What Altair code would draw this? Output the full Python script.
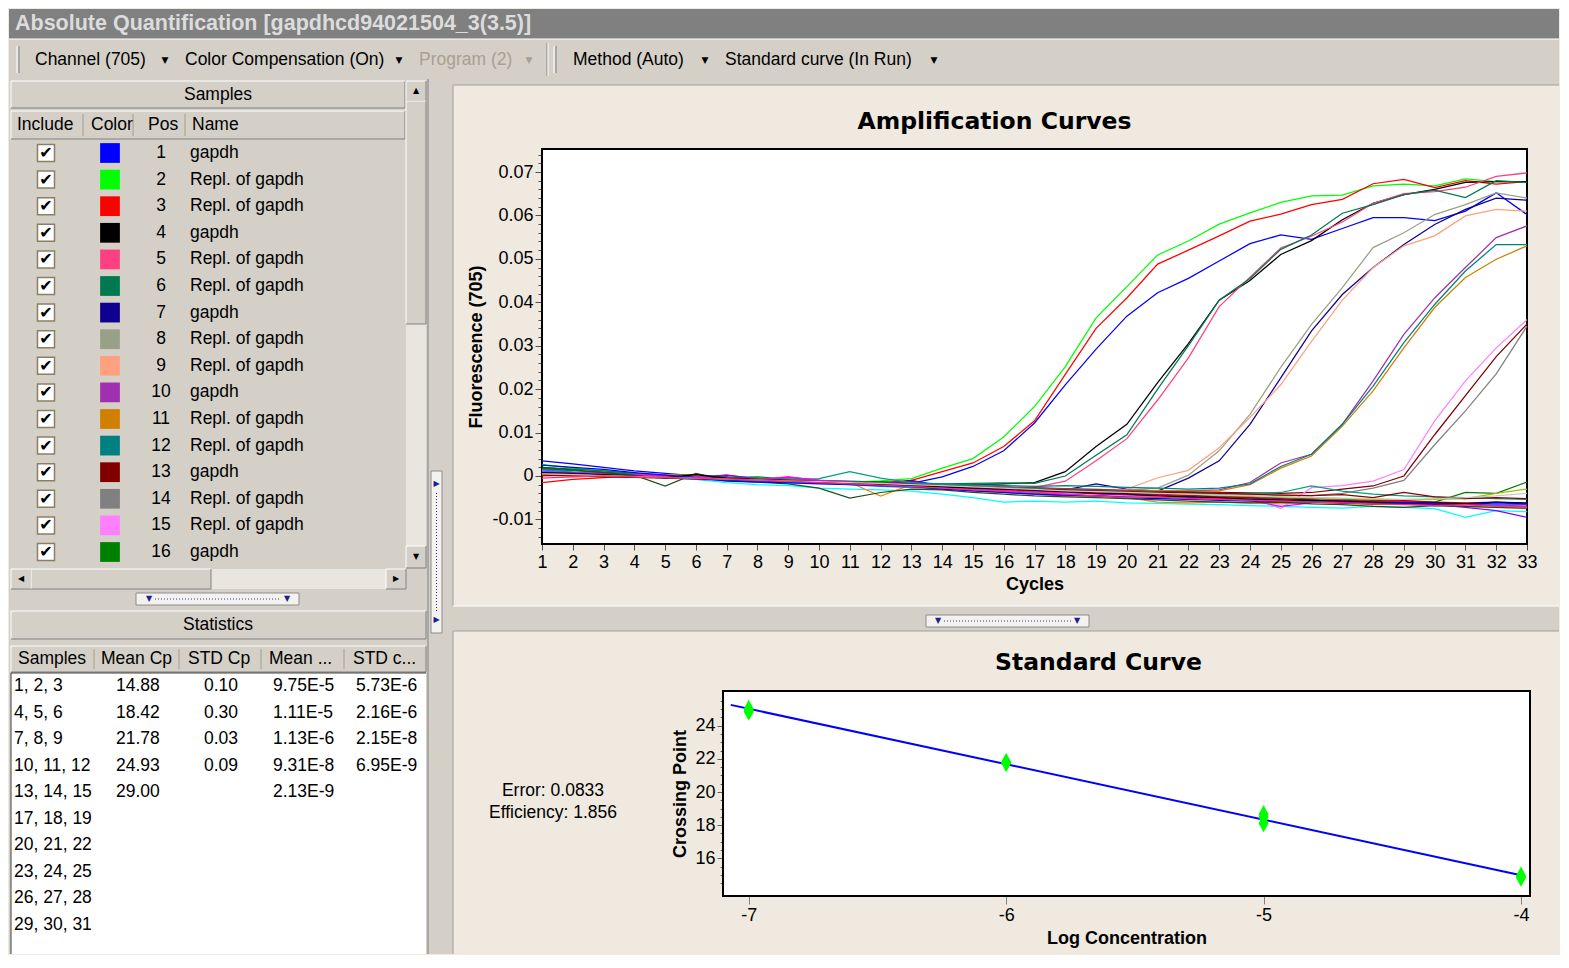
import altair as alt
import pandas as pd

# ---------------------------------------------------------------- data
cycles = list(range(1, 34))

s01 = [0.0035, 0.0028, 0.0020, 0.0012, 0.0006, 0.0000, -0.0006, -0.0010, -0.0012, -0.0014, -0.0016, -0.0018, -0.0017, -0.0002, 0.0022, 0.0058, 0.0122, 0.0210, 0.0292, 0.0368, 0.0422, 0.0455, 0.0495, 0.0535, 0.0555, 0.0545, 0.0570, 0.0595, 0.0595, 0.0588, 0.0610, 0.0652, 0.0602]
s02 = [0.0027, 0.0018, 0.0012, 0.0006, 0.0002, 0.0000, -0.0006, -0.0005, -0.0009, -0.0012, -0.0014, -0.0011, -0.0006, 0.0018, 0.0040, 0.0090, 0.0160, 0.0252, 0.0364, 0.0436, 0.0509, 0.0541, 0.0580, 0.0606, 0.0630, 0.0645, 0.0647, 0.0668, 0.0672, 0.0668, 0.0684, 0.0678, 0.0678]
s03 = [-0.0015, -0.0008, -0.0004, 0.0000, -0.0002, -0.0003, -0.0008, -0.0010, -0.0011, -0.0013, -0.0013, -0.0015, -0.0010, 0.0010, 0.0030, 0.0068, 0.0127, 0.0234, 0.0340, 0.0410, 0.0488, 0.0520, 0.0553, 0.0587, 0.0603, 0.0625, 0.0637, 0.0673, 0.0683, 0.0664, 0.0680, 0.0672, 0.0678]
s04 = [0.0015, 0.0012, 0.0008, 0.0004, 0.0000, -0.0003, -0.0008, -0.0010, -0.0012, -0.0015, -0.0016, -0.0018, -0.0020, -0.0022, -0.0020, -0.0018, -0.0015, 0.0010, 0.0068, 0.0119, 0.0215, 0.0305, 0.0405, 0.0450, 0.0510, 0.0542, 0.0590, 0.0628, 0.0648, 0.0660, 0.0676, 0.0678, 0.0678]
s05 = [0.0005, 0.0008, 0.0004, 0.0002, -0.0002, -0.0004, -0.0006, -0.0008, -0.0004, -0.0012, -0.0015, -0.0018, -0.0020, -0.0024, -0.0026, -0.0027, -0.0027, -0.0012, 0.0035, 0.0086, 0.0175, 0.0272, 0.0390, 0.0458, 0.0525, 0.0552, 0.0585, 0.0628, 0.0650, 0.0655, 0.0665, 0.0690, 0.0698]
s06 = [0.0020, 0.0016, 0.0012, 0.0006, 0.0002, 0.0000, -0.0005, -0.0007, -0.0010, -0.0011, -0.0013, -0.0014, -0.0016, -0.0018, -0.0017, -0.0016, -0.0017, 0.0000, 0.0048, 0.0095, 0.0200, 0.0300, 0.0405, 0.0455, 0.0522, 0.0555, 0.0605, 0.0625, 0.0648, 0.0658, 0.0641, 0.0680, 0.0676]
s07 = [0.0010, 0.0008, 0.0005, 0.0003, 0.0000, -0.0004, -0.0002, -0.0010, -0.0013, -0.0016, -0.0018, -0.0021, -0.0010, -0.0024, -0.0027, -0.0030, -0.0030, -0.0032, -0.0018, -0.0030, -0.0035, -0.0005, 0.0035, 0.0119, 0.0226, 0.0334, 0.0418, 0.0480, 0.0533, 0.0579, 0.0614, 0.0640, 0.0635]
s08 = [0.0012, 0.0009, 0.0006, 0.0004, 0.0001, -0.0002, -0.0005, -0.0008, -0.0010, -0.0012, -0.0015, -0.0017, -0.0019, -0.0021, -0.0024, -0.0026, -0.0028, -0.0030, -0.0031, -0.0032, -0.0028, 0.0002, 0.0058, 0.0142, 0.0250, 0.0349, 0.0434, 0.0526, 0.0560, 0.0602, 0.0625, 0.0652, 0.0640]
s09 = [0.0008, 0.0006, 0.0003, 0.0001, -0.0001, -0.0003, -0.0006, -0.0009, -0.0002, -0.0010, -0.0013, -0.0016, -0.0018, -0.0020, -0.0022, -0.0025, -0.0027, -0.0030, -0.0032, -0.0030, -0.0004, 0.0013, 0.0065, 0.0135, 0.0210, 0.0310, 0.0405, 0.0480, 0.0530, 0.0553, 0.0599, 0.0614, 0.0610]
s10 = [0.0006, 0.0004, 0.0002, 0.0000, -0.0002, -0.0004, 0.0002, -0.0008, -0.0010, -0.0012, -0.0014, -0.0016, -0.0018, -0.0020, -0.0022, -0.0025, -0.0027, -0.0029, -0.0031, -0.0033, -0.0035, -0.0034, -0.0032, -0.0015, 0.0030, 0.0050, 0.0119, 0.0219, 0.0326, 0.0410, 0.0480, 0.0549, 0.0576]
s11 = [0.0004, 0.0003, 0.0002, 0.0004, 0.0003, 0.0001, -0.0006, -0.0010, -0.0009, -0.0013, -0.0015, -0.0022, -0.0020, -0.0022, -0.0024, -0.0026, -0.0028, -0.0030, -0.0032, -0.0034, -0.0033, -0.0035, -0.0034, -0.0020, 0.0018, 0.0046, 0.0115, 0.0196, 0.0295, 0.0388, 0.0457, 0.0499, 0.0530]
s12 = [0.0016, 0.0012, 0.0008, 0.0004, 0.0001, -0.0002, -0.0004, -0.0006, -0.0008, -0.0010, -0.0012, -0.0014, -0.0016, -0.0018, -0.0020, -0.0022, -0.0024, -0.0022, -0.0024, -0.0026, -0.0028, -0.0030, -0.0028, -0.0018, 0.0022, 0.0050, 0.0119, 0.0207, 0.0307, 0.0395, 0.0472, 0.0533, 0.0533]
s13 = [0.0003, 0.0001, 0.0000, -0.0002, -0.0004, -0.0006, -0.0008, -0.0010, -0.0012, -0.0014, -0.0016, -0.0018, -0.0020, -0.0022, -0.0024, -0.0026, -0.0028, -0.0030, -0.0032, -0.0034, -0.0036, -0.0037, -0.0038, -0.0039, -0.0040, -0.0038, -0.0030, -0.0023, 0.0000, 0.0095, 0.0185, 0.0275, 0.0350]
s14 = [0.0010, 0.0007, 0.0004, 0.0002, -0.0001, -0.0003, -0.0006, -0.0008, -0.0010, -0.0013, -0.0015, -0.0017, -0.0019, -0.0022, -0.0024, -0.0026, -0.0029, -0.0031, -0.0033, -0.0035, -0.0037, -0.0039, -0.0040, -0.0042, -0.0044, -0.0045, -0.0040, -0.0028, -0.0010, 0.0072, 0.0150, 0.0235, 0.0345]
s15 = [0.0002, 0.0000, -0.0001, -0.0002, -0.0004, -0.0006, -0.0008, -0.0010, -0.0012, -0.0014, -0.0016, -0.0018, -0.0021, -0.0024, -0.0027, -0.0030, -0.0033, -0.0036, -0.0038, -0.0040, -0.0042, -0.0044, -0.0046, -0.0048, -0.0075, -0.0027, -0.0022, -0.0012, 0.0015, 0.0127, 0.0219, 0.0295, 0.0360]
s16 = [0.0018, 0.0012, 0.0009, 0.0003, 0.0000, 0.0004, -0.0004, -0.0002, -0.0008, -0.0012, -0.0014, -0.0013, -0.0020, -0.0024, -0.0028, -0.0031, -0.0033, -0.0035, -0.0037, -0.0040, -0.0042, -0.0044, -0.0046, -0.0047, -0.0050, -0.0052, -0.0053, -0.0056, -0.0058, -0.0060, -0.0038, -0.0040, -0.0014]
s17 = [0.0012, 0.0010, 0.0005, 0.0000, -0.0005, -0.0008, -0.0015, -0.0020, -0.0022, -0.0028, -0.0030, -0.0032, -0.0035, -0.0042, -0.0050, -0.0060, -0.0058, -0.0060, -0.0058, -0.0062, -0.0063, -0.0065, -0.0066, -0.0068, -0.0070, -0.0072, -0.0074, -0.0070, -0.0072, -0.0075, -0.0095, -0.0080, -0.0082]
s18 = [0.0005, 0.0003, 0.0002, 0.0003, 0.0002, 0.0001, -0.0005, -0.0008, -0.0006, -0.0012, -0.0015, -0.0046, -0.0020, -0.0024, -0.0028, -0.0032, -0.0036, -0.0044, -0.0046, -0.0050, -0.0060, -0.0062, -0.0060, -0.0062, -0.0064, -0.0060, -0.0063, -0.0066, -0.0065, -0.0068, -0.0070, -0.0072, -0.0074]
s19 = [0.0000, 0.0002, 0.0001, -0.0003, -0.0002, -0.0004, -0.0006, -0.0010, -0.0003, -0.0010, -0.0018, -0.0020, -0.0026, -0.0028, -0.0034, -0.0038, -0.0042, -0.0046, -0.0045, -0.0048, -0.0050, -0.0047, -0.0052, -0.0055, -0.0058, -0.0054, -0.0063, -0.0060, -0.0058, -0.0062, -0.0064, -0.0066, -0.0070]
s20 = [0.0006, 0.0004, 0.0002, 0.0000, -0.0002, -0.0003, 0.0002, -0.0006, -0.0008, -0.0012, -0.0016, -0.0018, -0.0012, -0.0022, -0.0026, -0.0030, -0.0034, -0.0038, -0.0040, -0.0038, -0.0044, -0.0048, -0.0054, -0.0050, -0.0056, -0.0058, -0.0060, -0.0062, -0.0064, -0.0066, -0.0072, -0.0080, -0.0095]
s21 = [0.0014, 0.0009, 0.0006, 0.0002, -0.0004, -0.0008, -0.0010, -0.0012, -0.0014, -0.0016, -0.0020, -0.0024, -0.0026, -0.0029, -0.0032, -0.0036, -0.0040, -0.0042, -0.0046, -0.0048, -0.0050, -0.0052, -0.0052, -0.0055, -0.0056, -0.0058, -0.0060, -0.0061, -0.0062, -0.0063, -0.0064, -0.0066, -0.0066]
s22 = [0.0008, 0.0006, 0.0004, 0.0001, -0.0002, -0.0005, -0.0006, -0.0009, -0.0012, -0.0014, -0.0015, -0.0018, -0.0020, -0.0024, -0.0027, -0.0030, -0.0032, -0.0034, -0.0036, -0.0038, -0.0040, -0.0042, -0.0045, -0.0046, -0.0048, -0.0050, -0.0052, -0.0054, -0.0055, -0.0054, -0.0052, -0.0040, -0.0030]
s23 = [0.0010, 0.0006, 0.0003, 0.0000, -0.0002, -0.0004, -0.0006, -0.0005, -0.0008, -0.0006, 0.0010, -0.0005, -0.0015, -0.0020, -0.0024, -0.0028, -0.0030, -0.0032, -0.0034, -0.0036, -0.0038, -0.0040, -0.0042, -0.0040, -0.0038, -0.0023, -0.0035, -0.0042, -0.0046, -0.0048, -0.0050, -0.0052, -0.0054]
s24 = [0.0004, 0.0002, 0.0000, -0.0002, -0.0003, -0.0006, -0.0008, -0.0010, -0.0012, -0.0014, -0.0016, -0.0018, -0.0022, -0.0025, -0.0028, -0.0032, -0.0035, -0.0036, -0.0038, -0.0040, -0.0042, -0.0045, -0.0048, -0.0050, -0.0052, -0.0055, -0.0056, -0.0058, -0.0057, -0.0060, -0.0062, -0.0060, -0.0064]
s25 = [0.0010, 0.0008, 0.0006, 0.0003, 0.0000, -0.0002, -0.0005, -0.0008, -0.0002, -0.0010, -0.0014, -0.0018, -0.0022, -0.0026, -0.0030, -0.0033, -0.0036, -0.0038, -0.0042, -0.0044, -0.0046, -0.0050, -0.0052, -0.0056, -0.0070, -0.0062, -0.0058, -0.0060, -0.0062, -0.0064, -0.0066, -0.0068, -0.0070]
s26 = [0.0020, 0.0014, 0.0008, 0.0002, -0.0023, 0.0006, -0.0010, -0.0014, -0.0018, -0.0028, -0.0051, -0.0038, -0.0030, -0.0032, -0.0038, -0.0042, -0.0046, -0.0048, -0.0050, -0.0052, -0.0055, -0.0058, -0.0060, -0.0062, -0.0060, -0.0064, -0.0066, -0.0070, -0.0072, -0.0068, -0.0070, -0.0072, -0.0074]
s27 = [0.0002, 0.0000, -0.0002, -0.0003, -0.0005, -0.0006, -0.0008, -0.0009, -0.0011, -0.0013, -0.0015, -0.0017, -0.0019, -0.0022, -0.0025, -0.0028, -0.0030, -0.0032, -0.0034, -0.0036, -0.0038, -0.0038, -0.0040, -0.0042, -0.0044, -0.0045, -0.0043, -0.0050, -0.0038, -0.0048, -0.0052, -0.0050, -0.0052]
s28 = [0.0008, 0.0006, 0.0003, 0.0000, -0.0004, 0.0003, -0.0005, -0.0008, -0.0010, -0.0014, -0.0018, -0.0020, -0.0022, -0.0025, -0.0028, -0.0030, -0.0033, -0.0036, -0.0040, -0.0042, -0.0046, -0.0048, -0.0050, -0.0053, -0.0055, -0.0056, -0.0058, -0.0060, -0.0062, -0.0062, -0.0064, -0.0060, -0.0062]
s29 = [0.0025, 0.0020, 0.0015, 0.0008, 0.0002, -0.0004, -0.0012, -0.0014, -0.0016, -0.0018, -0.0020, -0.0022, -0.0024, -0.0030, -0.0034, -0.0038, -0.0042, -0.0044, -0.0046, -0.0050, -0.0052, -0.0054, -0.0056, -0.0058, -0.0059, -0.0060, -0.0062, -0.0064, -0.0062, -0.0065, -0.0066, -0.0062, -0.0064]
s30 = [0.0005, 0.0003, 0.0001, -0.0001, -0.0003, -0.0005, -0.0007, -0.0009, -0.0011, -0.0013, -0.0015, -0.0017, -0.0020, -0.0022, -0.0025, -0.0028, -0.0031, -0.0034, -0.0036, -0.0038, -0.0040, -0.0042, -0.0044, -0.0046, -0.0048, -0.0050, -0.0051, -0.0052, -0.0054, -0.0052, -0.0050, -0.0046, -0.0040]
s31 = [-0.0005, -0.0002, 0.0000, -0.0002, -0.0003, -0.0005, -0.0007, -0.0009, -0.0012, -0.0015, -0.0018, -0.0021, -0.0024, -0.0028, -0.0032, -0.0035, -0.0038, -0.0042, -0.0046, -0.0050, -0.0048, -0.0052, -0.0054, -0.0056, -0.0058, -0.0060, -0.0062, -0.0064, -0.0066, -0.0068, -0.0066, -0.0070, -0.0072]

curve_samples = list(range(1, 32))
curve_colors = ['#0000ff', '#00ff00', '#ff0000', '#000000', '#ff4080', '#007850', '#100090',
                '#98a088', '#ffa080', '#a030b0', '#d08000', '#008080', '#800000', '#808080',
                '#ff80ff', '#008000', '#00ffff', '#ff8000', '#ff0080', '#8000ff', '#0080ff',
                '#a0c000', '#00a080', '#c00000', '#ff00ff', '#205020', '#900000', '#000000',
                '#0000ff', '#c8c8c8', '#ff3060']

sample_pos = list(range(1, 17))
sample_names = ['gapdh', 'Repl. of gapdh', 'Repl. of gapdh', 'gapdh', 'Repl. of gapdh',
                'Repl. of gapdh', 'gapdh', 'Repl. of gapdh', 'Repl. of gapdh', 'gapdh',
                'Repl. of gapdh', 'Repl. of gapdh', 'gapdh', 'Repl. of gapdh', 'Repl. of gapdh',
                'gapdh']

stat_samples = ['1, 2, 3', '4, 5, 6', '7, 8, 9', '10, 11, 12', '13, 14, 15',
                '17, 18, 19', '20, 21, 22', '23, 24, 25', '26, 27, 28', '29, 30, 31']
stat_mean_cp = ['14.88', '18.42', '21.78', '24.93', '29.00', '', '', '', '', '']
stat_std_cp = ['0.10', '0.30', '0.03', '0.09', '', '', '', '', '', '']
stat_mean_conc = ['9.75E-5', '1.11E-5', '1.13E-6', '9.31E-8', '2.13E-9', '', '', '', '', '']
stat_std_conc = ['5.73E-6', '2.16E-6', '2.15E-8', '6.95E-9', '', '', '', '', '', '']

std_logc = [-7, -7, -7, -6, -6, -6, -5, -5, -5, -4, -4, -4]
std_cp = [25.02, 24.92, 24.85, 21.80, 21.76, 21.78, 18.66, 18.12, 18.48, 14.95, 14.82, 14.88]
fit_extent = [-7.07, -4.0]
error_text = 'Error: 0.0833'
efficiency_text = 'Efficiency: 1.856'

window_title = 'Absolute Quantification [gapdhcd94021504_3(3.5)]'

# ---------------------------------------------------------------- tables
series = [s01, s02, s03, s04, s05, s06, s07, s08, s09, s10, s11, s12, s13, s14, s15, s16,
          s17, s18, s19, s20, s21, s22, s23, s24, s25, s26, s27, s28, s29, s30, s31]
rows = []
for sid, vals in zip(curve_samples, series):
    assert len(vals) == len(cycles), sid
    for c, v in zip(cycles, vals):
        rows.append({'sample': sid, 'cycle': c, 'fluor': v})
amp_df = pd.DataFrame(rows)
samples_df = pd.DataFrame({'pos': sample_pos, 'name': sample_names})
stats_df = pd.DataFrame({'samples': stat_samples, 'mean_cp': stat_mean_cp, 'std_cp': stat_std_cp,
                         'mean_conc': stat_mean_conc, 'std_conc': stat_std_conc})
std_df = pd.DataFrame({'logc': std_logc, 'cp': std_cp})

# ---------------------------------------------------------------- style helpers
FONT = 'Liberation Sans, Arial, Helvetica, sans-serif'
HEAD = 'DejaVu Sans, Verdana, sans-serif'
BEIGE = '#d4d0c8'
PANEL = '#efe9df'
TRACK = '#e9e6df'
W, H = 1550, 945
ONE = pd.DataFrame({'k': [0]})
color_scale = alt.Scale(domain=curve_samples, range=curve_colors)
UI = 17.5


def txt(s, x, y, size=UI, color='#000000', align='left', weight='normal', font=FONT):
    return alt.Chart(ONE).mark_text(text=s, align=align, baseline='middle', fontSize=size,
                                    font=font, fontWeight=weight, color=color).encode(
        x=alt.value(x), y=alt.value(y))


def box(x1, x2, y1, y2, fill, stroke='transparent', sw=1):
    return alt.Chart(ONE).mark_rect(fill=fill, stroke=stroke, strokeWidth=sw).encode(
        x=alt.value(x1), x2=alt.value(x2), y=alt.value(y1), y2=alt.value(y2))


def rule(x1, x2, y1, y2, color, sw=1, dash=None):
    kw = dict(color=color, strokeWidth=sw)
    if dash:
        kw['strokeDash'] = dash
    return alt.Chart(ONE).mark_rule(**kw).encode(
        x=alt.value(x1), x2=alt.value(x2), y=alt.value(y1), y2=alt.value(y2))


def raised(x1, x2, y1, y2, fill=BEIGE):
    return [box(x1, x2, y1, y2, fill),
            rule(x1, x2, y1, y1, '#ffffff'), rule(x1, x1, y1, y2, '#ffffff'),
            rule(x1, x2, y2, y2, '#808080'), rule(x2, x2, y1, y2, '#808080')]


tri = dict(size=9, align='center', font=HEAD)
small_tri = dict(size=8, align='center', font=HEAD)
blue_tri = dict(size=8, color='#202090', align='center', font=HEAD)
layers = []

# ---------------------------------------------------------------- title bar & toolbar
layers += [
    box(0, W, 0, 30, '#808080'),
    txt(window_title, 6, 15, size=21.5, color='#dcdcdc', weight='bold'),
    box(0, W, 30, 70, BEIGE),
    rule(0, W, 30, 30, '#ffffff'),
    rule(8, 8, 37, 64, '#ffffff'), rule(10, 10, 37, 64, '#808080'),
    txt('Channel (705)', 26, 51), txt('▼', 156, 51, **tri),
    txt('Color Compensation (On)', 176, 51), txt('▼', 390, 51, **tri),
    txt('Program (2)', 410, 51, color='#a8a090'),
    txt('▼', 520, 51, size=9, color='#a8a090', align='center', font=HEAD),
    rule(538, 538, 34, 67, '#808080'), rule(539, 539, 34, 67, '#ffffff'),
    rule(545, 545, 37, 64, '#ffffff'), rule(547, 547, 37, 64, '#808080'),
    txt('Method (Auto)', 564, 51), txt('▼', 696, 51, **tri),
    txt('Standard curve (In Run)', 716, 51), txt('▼', 925, 51, **tri),
]

# ---------------------------------------------------------------- samples panel (x 0-420, y 70-597)
ypos = alt.Y('pos:Q', scale=alt.Scale(domain=[1, 16], range=[144, 543]), axis=None)
layers += [
    box(0, 420, 70, 597, BEIGE),
    *raised(2, 396, 72, 99), txt('Samples', 209, 86, align='center'),
    *raised(2, 396, 102, 130),
    rule(74, 74, 105, 127, '#a89c84'), rule(124, 124, 105, 127, '#a89c84'), rule(176, 176, 105, 127, '#a89c84'),
    txt('Include', 8, 116), txt('Color', 82, 116), txt('Pos', 139, 116), txt('Name', 183, 116),
    alt.Chart(samples_df).mark_square(size=289, fill='white', stroke='#8a7f66', strokeWidth=1.5,
                                      opacity=1).encode(x=alt.value(37), y=ypos),
    alt.Chart(samples_df).mark_text(text='✔', fontSize=16, fontWeight='bold', font=HEAD, color='black',
                                    align='center', baseline='middle').encode(x=alt.value(37), y=ypos),
    alt.Chart(samples_df).mark_square(size=390, opacity=1).encode(
        x=alt.value(101), y=ypos, color=alt.Color('pos:N', scale=color_scale, legend=None)),
    alt.Chart(samples_df).mark_text(align='center', baseline='middle', fontSize=UI, font=FONT,
                                    color='black').encode(x=alt.value(152), y=ypos, text='pos:Q'),
    alt.Chart(samples_df).mark_text(align='left', baseline='middle', fontSize=UI, font=FONT,
                                    color='black').encode(x=alt.value(181), y=ypos, text='name:N'),
    box(397, 417, 72, 559, TRACK),
    *raised(397, 417, 72, 92), txt('▲', 407, 82, **small_tri),
    *raised(397, 417, 92, 315),
    *raised(397, 417, 537, 559), txt('▼', 407, 548, **small_tri),
    box(2, 397, 560, 580, TRACK),
    *raised(2, 22, 560, 580), txt('◀', 12, 570, **small_tri),
    *raised(22, 202, 560, 580),
    *raised(377, 397, 560, 580), txt('▶', 387, 570, **small_tri),
    box(127, 290, 584, 596, '#f4f2ee', stroke='#8c8c8c'),
    rule(146, 272, 590, 590, '#3030a0', dash=[1, 2]),
    txt('▼', 140, 590, **blue_tri), txt('▼', 278, 590, **blue_tri),
]

# ---------------------------------------------------------------- statistics panel (y 597-945)
yrow = alt.Y('samples:N', sort=None, scale=alt.Scale(type='point', range=[677, 916], padding=0), axis=None)


def stat_col(field, x):
    return alt.Chart(stats_df).mark_text(align='left', baseline='middle', fontSize=UI, font=FONT,
                                         color='black').encode(x=alt.value(x), y=yrow, text=f'{field}:N')


layers += [
    box(0, 420, 597, H, BEIGE),
    *raised(2, 417, 602, 630), txt('Statistics', 209, 616, align='center'),
    *raised(2, 417, 637, 663),
    rule(85, 85, 640, 660, '#a89c84'), rule(170, 170, 640, 660, '#a89c84'),
    rule(252, 252, 640, 660, '#a89c84'), rule(335, 335, 640, 660, '#a89c84'),
    txt('Samples', 9, 650), txt('Mean Cp', 92, 650), txt('STD Cp', 179, 650),
    txt('Mean ...', 260, 650), txt('STD c...', 344, 650),
    box(2, 417, 664, H, '#ffffff'), rule(2, 2, 664, H, '#404040'), rule(2, 417, 664, 664, '#404040'),
    stat_col('samples', 5), stat_col('mean_cp', 107), stat_col('std_cp', 195),
    stat_col('mean_conc', 264), stat_col('std_conc', 347),
]

# ---------------------------------------------------------------- splitters and frames
layers += [
    box(420, 438, 70, H, BEIGE),
    rule(419, 419, 70, H, '#808080'),
    box(422, 433, 462, 624, '#f4f2ee', stroke='#8c8c8c'),
    rule(427.5, 427.5, 484, 602, '#3030a0', dash=[1, 2]),
    txt('▶', 427.5, 475, **blue_tri), txt('▶', 427.5, 611, **blue_tri),
    box(438, 444, 70, H, BEIGE), box(438, W, 70, 76, BEIGE),
    rule(444, 444, 76, 597, '#a0a0a0'), rule(444, W, 76, 76, '#a0a0a0'),
    box(438, W, 597, 622, BEIGE),
    rule(444, W, 597, 597, '#ffffff'), rule(444, W, 622, 622, '#a0a0a0'),
    box(917, 1080, 606, 618, '#f4f2ee', stroke='#8c8c8c'),
    rule(935, 1062, 612, 612, '#3030a0', dash=[1, 2]),
    txt('▼', 929, 612, **blue_tri), txt('▼', 1068, 612, **blue_tri),
    rule(444, 444, 622, H, '#a0a0a0'),
]

# ---------------------------------------------------------------- amplification curves
AX0, AX1, AY0, AY1 = 533, 1518, 140, 535
major = "abs(round(datum.value*1000)) % 10 == 0"
amp_y_ticks = [round(-0.014 + 0.002 * i, 3) for i in range(45)]
layers += [
    box(AX0, AX1, AY0, AY1, '#ffffff', stroke='#000000', sw=2),
    txt('Amplification Curves', (AX0 + AX1) / 2 - 40, 113, size=23.5, weight='bold', font=HEAD, align='center'),
    alt.Chart(amp_df).mark_line(strokeWidth=1.25).encode(
        x=alt.X('cycle:Q', scale=alt.Scale(domain=[1, 33], range=[AX0, AX1], nice=False, zero=False),
                axis=alt.Axis(orient='bottom', offset=AY1 - H, values=cycles, format='d',
                              labelOverlap=False, labelFlush=False,
                              tickSize=6, tickColor='#505050', labelPadding=3, domain=False, grid=False,
                              labelFont=FONT, labelFontSize=18, labelColor='black',
                              title='Cycles', titleFont=FONT, titleFontSize=18, titleFontWeight='bold',
                              titleColor='black', titlePadding=4)),
        y=alt.Y('fluor:Q', scale=alt.Scale(domain=[-0.01566, 0.0753], range=[AY1, AY0], nice=False, zero=False),
                axis=alt.Axis(orient='left', offset=-AX0, values=amp_y_ticks,
                              labelExpr=f"{major} ? (abs(datum.value) < 0.0005 ? '0' : (datum.value < 0 ? '-' : '') + format(abs(datum.value), '.2f')) : ''",
                              tickSize={'condition': {'test': major, 'value': 7}, 'value': 4},
                              tickColor='#505050', labelOverlap=False, labelPadding=2, domain=False, grid=False,
                              labelFont=FONT, labelFontSize=18, labelColor='black',
                              title='Fluorescence (705)', titleFont=FONT, titleFontSize=18,
                              titleFontWeight='bold', titleColor='black', titlePadding=6)),
        color=alt.Color('sample:N', scale=color_scale, legend=None),
    ),
]

# ---------------------------------------------------------------- standard curve
SX0, SX1, SY0, SY1 = 714, 1521, 682, 887
diamond = 'M0,-1L0.55,0L0,1L-0.55,0Z'
sx_scale = alt.Scale(domain=[-7.1, -3.965], range=[SX0, SX1], nice=False, zero=False)
sy_scale = alt.Scale(domain=[13.72, 26.1], range=[SY1, SY0], nice=False, zero=False)
sx = alt.X('logc:Q', scale=sx_scale,
           axis=alt.Axis(orient='bottom', offset=SY1 - H, values=[-7, -6, -5, -4],
                         labelExpr="'' + datum.value", labelFlush=False,
                         labelOverlap=False, tickSize=8, tickColor='#808080', labelPadding=2,
                         domain=False, grid=False, labelFont=FONT, labelFontSize=18, labelColor='black',
                         title='Log Concentration', titleFont=FONT, titleFontSize=18,
                         titleFontWeight='bold', titleColor='black', titlePadding=5))
sy = alt.Y('cp:Q', scale=sy_scale,
           axis=alt.Axis(orient='left', offset=-SX0, values=[14.5 + 0.5 * i for i in range(23)],
                         labelExpr="(datum.value % 2 == 0 && datum.value >= 16 && datum.value <= 24) ? '' + datum.value : ''",
                         tickSize={'condition': {'test': 'datum.value % 2 == 0', 'value': 6}, 'value': 3},
                         tickColor='#606060', labelOverlap=False, labelPadding=2, domain=False, grid=False,
                         labelFont=FONT, labelFontSize=18, labelColor='black',
                         title='Crossing Point', titleFont=FONT, titleFontSize=18,
                         titleFontWeight='bold', titleColor='black', titlePadding=5))
layers += [
    box(SX0, SX1, SY0, SY1, '#ffffff', stroke='#000000', sw=2),
    txt('Standard Curve', (SX0 + SX1) / 2 - 28, 654, size=23.5, weight='bold', font=HEAD, align='center'),
    txt(error_text, 544, 782, align='center'),
    txt(efficiency_text, 544, 804, align='center'),
    alt.Chart(std_df).transform_regression('logc', 'cp', extent=fit_extent).mark_line(
        color='#0000ff', strokeWidth=2).encode(x=sx, y=sy),
    alt.Chart(std_df).mark_point(shape=diamond, size=330, filled=True, color='#00ff00',
                                 opacity=1, strokeWidth=0).encode(
        x=alt.X('logc:Q', scale=sx_scale, axis=None), y=alt.Y('cp:Q', scale=sy_scale, axis=None)),
]

chart = alt.layer(*layers).resolve_scale(
    x='independent', y='independent', color='independent'
).properties(width=W, height=H, background=PANEL, padding=0).configure_view(strokeWidth=0)

chart.save("out.html", embed_options={"renderer": "svg", "actions": False})
